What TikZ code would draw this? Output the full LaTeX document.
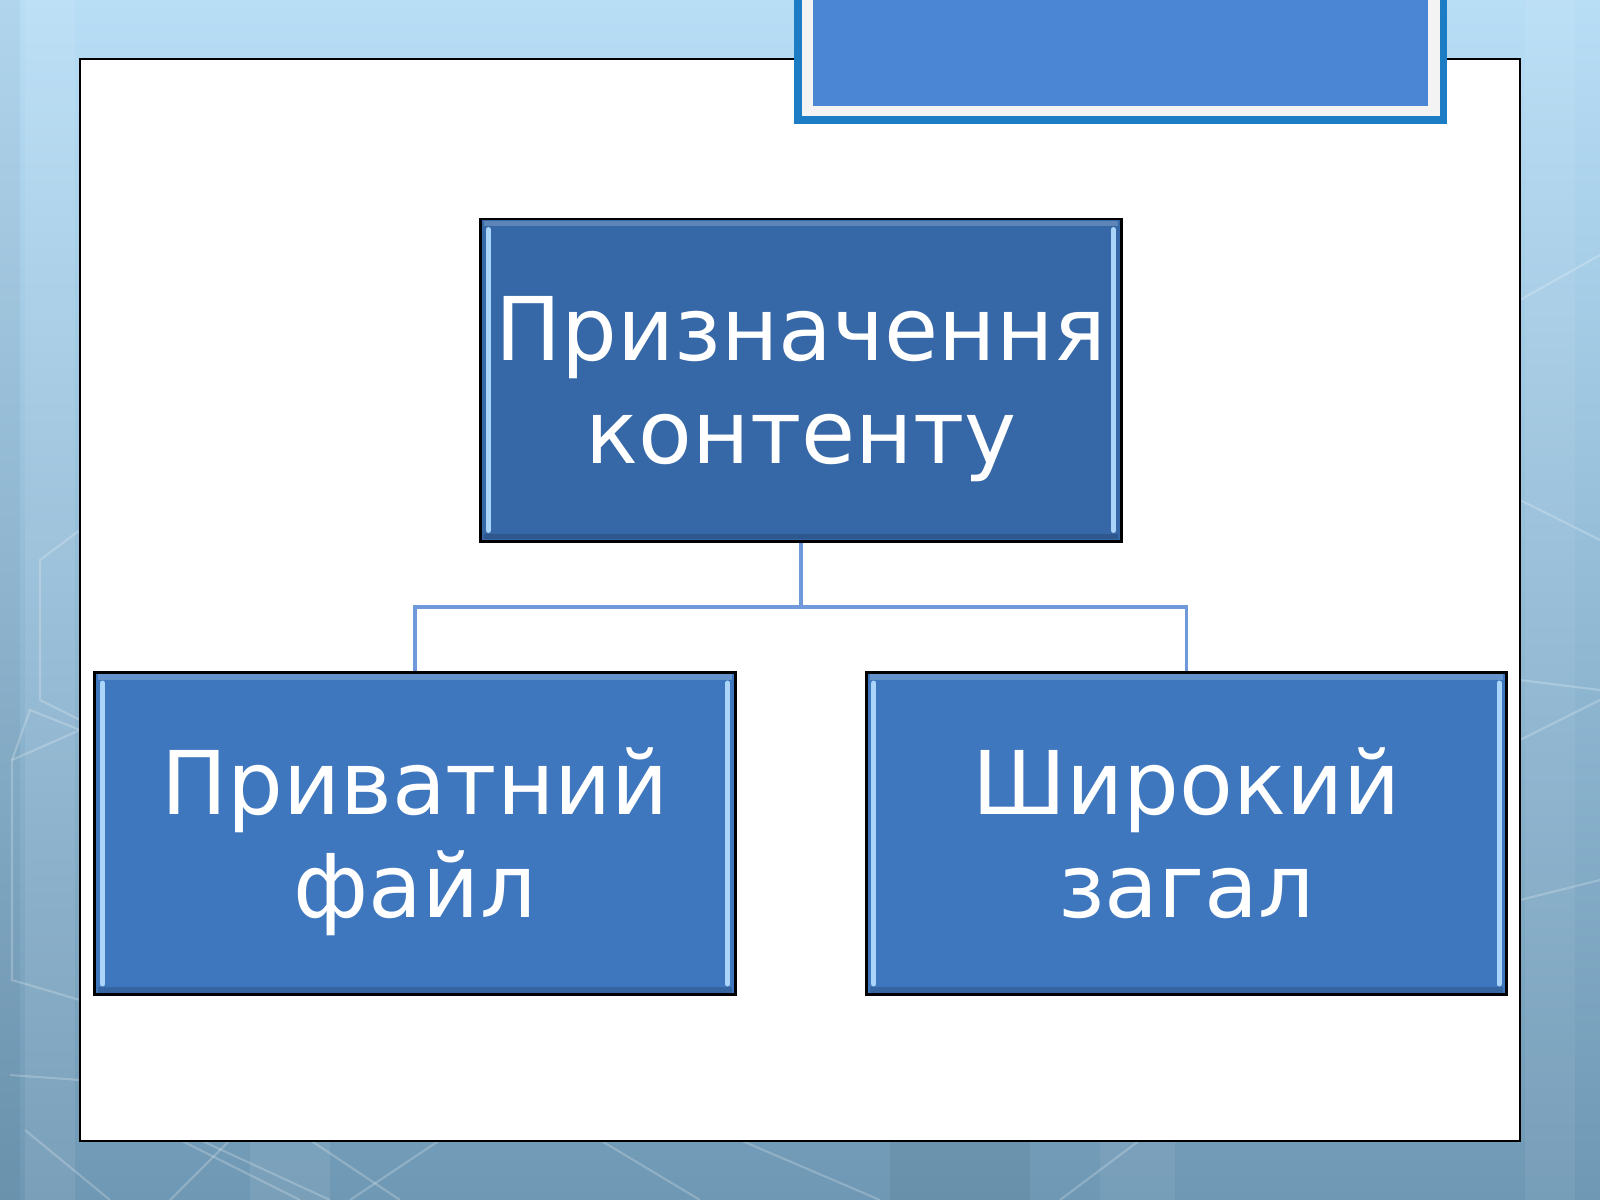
\documentclass[tikz,border=0pt]{standalone}
\usepackage{fontspec}
\setmainfont{DejaVu Sans}
\usetikzlibrary{positioning}
\definecolor{slidetop}{HTML}{B8DEF6}
\definecolor{slidemid}{HTML}{93BBD6}
\definecolor{slidebot}{HTML}{6F98B4}
\definecolor{blocktop}{HTML}{3667A6}
\definecolor{blocksub}{HTML}{3E77BE}
\definecolor{bevellight}{HTML}{AAD5F8}
\definecolor{linkblue}{HTML}{7099DA}
\definecolor{titleframe}{HTML}{1C7DC5}
\definecolor{titlegray}{HTML}{F3F3F3}
\definecolor{titlefill}{HTML}{4A86D3}
\tikzset{
  block/.style={draw=black, line width=0.8pt, align=center,
    minimum width=6.4cm, minimum height=3.22cm, inner sep=0pt},
  topblock/.style={block, fill=blocktop},
  subblock/.style={block, fill=blocksub},
  blocktext/.style={text=white, align=center, yshift=-3.3pt,
    font=\fontsize{25}{29.3}\selectfont},
  link/.style={draw=linkblue, line width=1.1pt},
  faint/.style={white, opacity=0.22, line width=0.6pt}
}
\newcommand{\bevel}[1]{%
  \draw[bevellight, line width=1.4pt, line cap=round]
    ([xshift=0.09cm,yshift=-0.12cm]#1.north west) -- ([xshift=0.09cm,yshift=0.12cm]#1.south west);
  \draw[bevellight, line width=1.4pt, line cap=round]
    ([xshift=-0.09cm,yshift=-0.12cm]#1.north east) -- ([xshift=-0.09cm,yshift=0.12cm]#1.south east);
  \draw[white, opacity=0.2, line width=1.5pt]
    ([xshift=0.05cm,yshift=-0.06cm]#1.north west) -- ([xshift=-0.05cm,yshift=-0.06cm]#1.north east);
  \draw[black, opacity=0.15, line width=1.5pt]
    ([xshift=0.05cm,yshift=0.06cm]#1.south west) -- ([xshift=-0.05cm,yshift=0.06cm]#1.south east);
}
\begin{document}
\begin{tikzpicture}[x=0.01cm, y=-0.01cm]
  \useasboundingbox (0,0) rectangle (1600,1200);
  % slide background
  \shade[top color=slidetop, bottom color=slidebot, middle color=slidemid] (0,0) rectangle (1600,1200);
  \fill[white, opacity=0.08] (25,0) rectangle (75,1200);
  \fill[white, opacity=0.06] (1525,0) rectangle (1575,1200);
  \fill[black, opacity=0.04] (0,0) rectangle (20,1200);
  \fill[white, opacity=0.07] (250,1140) rectangle (330,1200);
  \fill[black, opacity=0.05] (890,1140) rectangle (1030,1200);
  \fill[white, opacity=0.06] (1100,1140) rectangle (1175,1200);
  % faint lines
  \draw[faint] (80,530) -- (40,560) -- (40,700) -- (80,720);
  \draw[faint] (80,730) -- (30,710) -- (12,760) -- (12,980) -- (80,1000);
  \draw[faint] (12,760) -- (80,730);
  \draw[faint] (10,1075) -- (80,1080);
  \draw[faint] (25,1130) -- (110,1200);
  \draw[faint] (180,1140) -- (300,1200);
  \draw[faint] (170,1200) -- (230,1140);
  \draw[faint] (200,1140) -- (330,1200);
  \draw[faint] (310,1140) -- (400,1200);
  \draw[faint] (440,1140) -- (350,1200);
  \draw[faint] (600,1140) -- (700,1200);
  \draw[faint] (740,1140) -- (880,1200);
  \draw[faint] (1060,1200) -- (1140,1140);
  \draw[faint] (1520,300) -- (1600,255);
  \draw[faint] (1520,500) -- (1600,540);
  \draw[faint] (1520,680) -- (1600,690);
  \draw[faint] (1520,740) -- (1600,700);
  \draw[faint] (1520,900) -- (1600,880);
  % white panel
  \filldraw[fill=white, draw=black, line width=0.8pt] (80,59) rectangle (1520,1141);
  % title box
  \filldraw[fill=titlegray, draw=titleframe, line width=2pt] (798,-5) rectangle (1443,120);
  \fill[titlefill] (813,-5) rectangle (1428,106);
  % blocks
  \node[topblock] (purpose) at (801,380) {};
  \node[subblock] (private) at (415,833.5) {};
  \node[subblock] (wide) at (1186.5,833.5) {};
  \bevel{purpose}
  \bevel{private}
  \bevel{wide}
  % block texts
  \node[blocktext] (purposetext) at (purpose) {Призначення\strut\\контенту\strut};
  \node[blocktext] (privatetext) at (private) {Приватний\strut\\файл\strut};
  \node[blocktext] (widetext) at (wide) {Широкий\strut\\загал\strut};
  % connectors
  \coordinate (fork) at (801,607);
  \draw[link] (purpose.south) -- (fork);
  \draw[link] (fork) -| (private.north);
  \draw[link] (fork) -| (wide.north);
\end{tikzpicture}
\end{document}
